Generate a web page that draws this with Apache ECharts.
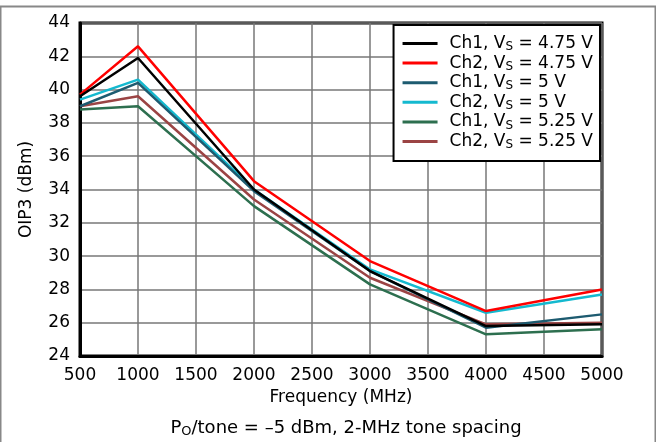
<!DOCTYPE html>
<html>
<head>
<meta charset="utf-8">
<script src="https://cdn.jsdelivr.net/npm/echarts@6/dist/echarts.min.js"></script>
<style>
html,body{margin:0;padding:0;background:#fff;}
#c{width:656px;height:442px;}
</style>
</head>
<body>
<div id="c"></div>
<script>
var freqs = [500, 1000, 2000, 3000, 4000, 5000];
var ch1_475 = [39.6, 41.9, 34.0, 29.1, 25.8, 25.9];
var ch2_475 = [39.7, 42.6, 34.5, 29.7, 26.7, 28.0];
var ch1_500 = [39.0, 40.4, 33.9, 29.1, 25.7, 26.5];
var ch2_500 = [39.4, 40.6, 34.0, 29.2, 26.6, 27.7];
var ch1_525 = [38.8, 39.0, 33.0, 28.3, 25.3, 25.6];
var ch2_525 = [39.0, 39.6, 33.4, 28.7, 25.9, 26.0];
var channels = ['Ch1', 'Ch2', 'Ch1', 'Ch2', 'Ch1', 'Ch2'];
var voltages = ['4.75', '4.75', '5', '5', '5.25', '5.25'];
var colors = ['#000000', '#ff0000', '#1d5b70', '#14b9cf', '#2d6f4f', '#9b4444'];
var yTicks = {min: 24, max: 44, step: 2};
var xTicks = {min: 500, max: 5000, step: 500};

var allData = [ch1_475, ch2_475, ch1_500, ch2_500, ch1_525, ch2_525];
var series = allData.map(function (arr, i) {
  return {
    name: channels[i] + ', VS = ' + voltages[i] + ' V',
    type: 'line',
    data: freqs.map(function (f, j) { return [f, arr[j]]; }),
    showSymbol: false,
    symbol: 'none',
    lineStyle: {color: colors[i], width: 2.5},
    itemStyle: {color: colors[i]},
    z: 10 - i
  };
});

var chart = echarts.init(document.getElementById('c'));
var font = '"DejaVu Sans", sans-serif';
chart.setOption({
  animation: false,
  backgroundColor: '#fff',
  grid: {left: 80, top: 23, width: 522, height: 333, show: true, borderColor: '#000', borderWidth: 3, backgroundColor: 'transparent'},
  xAxis: {
    type: 'value', min: xTicks.min, max: xTicks.max, interval: xTicks.step,
    name: 'Frequency (MHz)', nameLocation: 'middle', nameGap: 31,
    nameTextStyle: {fontFamily: font, fontSize: 17, color: '#000'},
    axisLine: {show: true, lineStyle: {color: '#000', width: 3}},
    axisTick: {show: false},
    axisLabel: {fontFamily: font, fontSize: 17, color: '#000', margin: 11, formatter: function (v) { return String(v); }},
    splitLine: {show: true, lineStyle: {color: '#777', width: 1.5}}
  },
  yAxis: {
    type: 'value', min: yTicks.min, max: yTicks.max, interval: yTicks.step,
    name: 'OIP3 (dBm)', nameLocation: 'middle', nameGap: 45, nameRotate: 90,
    nameTextStyle: {fontFamily: font, fontSize: 17, color: '#000'},
    axisLine: {show: true, lineStyle: {color: '#000', width: 3}},
    axisTick: {show: false},
    axisLabel: {fontFamily: font, fontSize: 17, color: '#000', margin: 10},
    splitLine: {show: true, lineStyle: {color: '#777', width: 1.5}}
  },
  legend: {
    show: true,
    orient: 'vertical',
    right: 56, top: 25,
    backgroundColor: '#fff',
    borderColor: '#000', borderWidth: 2, borderRadius: 0,
    padding: [10, 7, 10, 9],
    itemWidth: 35, itemHeight: 3, itemGap: 1.6,
    icon: 'rect',
    data: series.map(function (s) { return s.name; }),
    formatter: function (name) {
      var i = series.findIndex(function (s) { return s.name === name; });
      return '{f|' + channels[i] + ', V}{s|S}{n| = ' + voltages[i] + ' V}';
    },
    textStyle: {
      fontFamily: font, fontSize: 17, color: '#000',
      rich: {
        f: {fontFamily: font, fontSize: 17, color: '#000', lineHeight: 19, padding: [0, 0, 0, 7]},
        n: {fontFamily: font, fontSize: 17, color: '#000', lineHeight: 19},
        s: {fontFamily: font, fontSize: 12, color: '#000', padding: [7, 0, 0, 0]}
      }
    }
  },
  graphic: [
    {type: 'rect', left: -2, top: 4, shape: {width: 655, height: 445}, style: {fill: 'none', stroke: '#888', lineWidth: 2}, silent: true},
    {
      type: 'text', x: 346, y: 428,
      style: {
        text: '{n|P}{s|O}{n|/tone = –5 dBm, 2-MHz tone spacing}',
        font: '18px ' + font,
        fill: '#000',
        align: 'center', verticalAlign: 'middle',
        rich: {
          n: {fontFamily: font, fontSize: 18, fill: '#000'},
          s: {fontFamily: font, fontSize: 13, fill: '#000', padding: [8, 0, 0, 0]}
        }
      }
    }
  ],
  series: series
});
</script>
</body>
</html>
